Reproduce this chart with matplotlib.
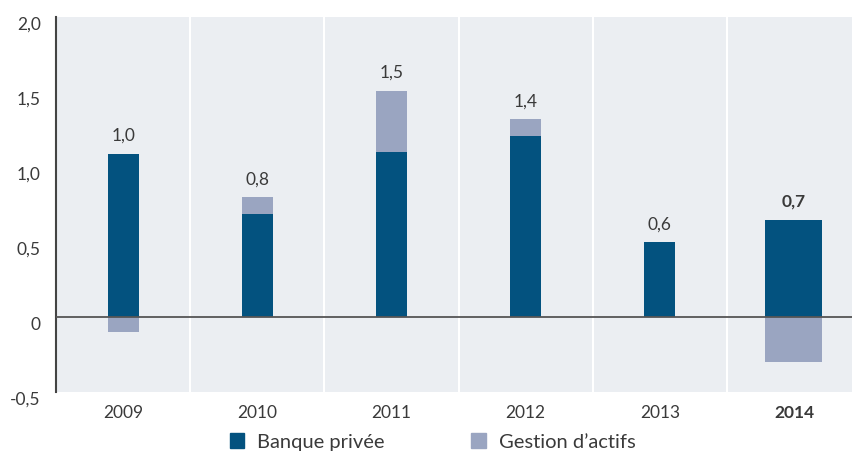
import matplotlib.pyplot as plt
from matplotlib.patches import Patch
import numpy as np

years = ['2009', '2010', '2011', '2012', '2013', '2014']
banque_privee = [1.09, 0.69, 1.10, 1.21, 0.50, 0.65]
gestion_actifs = [-0.10, 0.11, 0.41, 0.11, 0.0, -0.30]
total_labels = ['1,0', '0,8', '1,5', '1,4', '0,6', '0,7']
yticks = [-0.5, 0, 0.5, 1.0, 1.5, 2.0]
ytick_labels = ['-0,5', '0', '0,5', '1,0', '1,5', '2,0']

BLUE = '#03527f'
LAVENDER = '#9aa5c1'
BG = '#ebeef2'
TXT = '#3a3a3a'

plt.rcParams['font.family'] = ['Lato', 'DejaVu Sans']

fig = plt.figure(figsize=(8.53, 4.55), dpi=100)
ax = fig.add_axes([56 / 853, 1 - 392 / 455, 1 - 56 / 853, (392 - 17) / 455])
ax.set_facecolor(BG)

x = np.arange(len(years))
widths = [0.23] * (len(years) - 1) + [0.425]
bp = np.array(banque_privee)
ga = np.array(gestion_actifs)

ax.bar(x, bp, width=widths, color=BLUE, zorder=2)
# asset management stacks on top when positive, hangs below zero otherwise
ga_bottom = np.where(ga >= 0, bp, 0)
ax.bar(x, ga, bottom=ga_bottom, width=widths, color=LAVENDER, zorder=2)

for i, lab in enumerate(total_labels):
    top = bp[i] + max(ga[i], 0)
    ax.annotate(lab, (x[i], top), xytext=(0, 7), textcoords='offset points',
                ha='center', va='bottom', fontsize=12.5, color=TXT,
                fontweight='bold' if i == len(years) - 1 else 'normal')

for sep in x[:-1] + 0.5:
    ax.axvline(sep, color='white', lw=1.5, zorder=1)
ax.axhline(0, color='#555555', lw=1.3, zorder=3)

ax.set_xlim(-0.5, 5.44)
ax.set_ylim(-0.5, 2.0)
ax.set_yticks(yticks)
ax.set_yticklabels(ytick_labels)
ax.set_xticks(x)
ax.set_xticklabels(years)
for lab in ax.get_yticklabels():
    lab.set_verticalalignment('top')
ax.get_xticklabels()[-1].set_fontweight('bold')
ax.tick_params(axis='both', length=0, labelsize=12.5, colors=TXT)
ax.tick_params(axis='y', pad=11)
ax.tick_params(axis='x', pad=9)

for side in ['top', 'right', 'bottom']:
    ax.spines[side].set_visible(False)
ax.spines['left'].set_color('#444444')
ax.spines['left'].set_linewidth(1.5)

handles = [Patch(color=BLUE, label='Banque privée'),
           Patch(color=LAVENDER, label="Gestion d\u2019actifs")]
fig.legend(handles=handles, loc='center left', bbox_to_anchor=(212 / 853, 1 - 442 / 455),
           ncol=2, frameon=False, fontsize=14.5, handlelength=0.7, handleheight=0.7,
           handletextpad=0.65, columnspacing=4.3, labelcolor=TXT)

fig.savefig('out.png', dpi=100)
